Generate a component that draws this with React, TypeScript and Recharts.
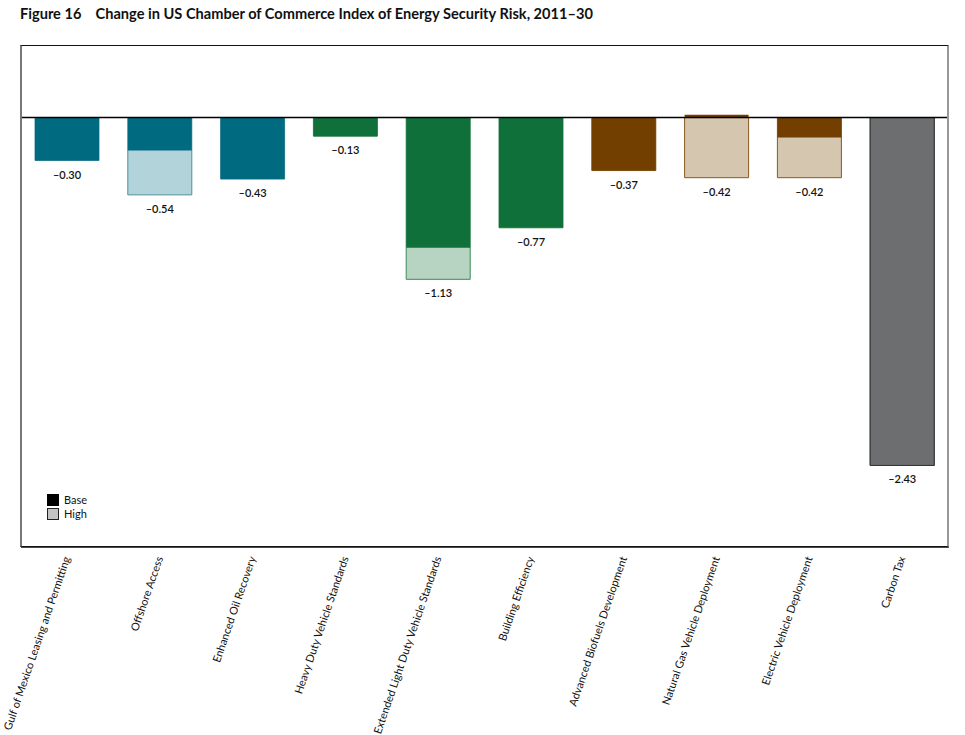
import React from "react";
import { BarChart, Bar, XAxis, YAxis, Cell, LabelList, ReferenceLine } from "recharts";

const categories = [
  "Gulf of Mexico Leasing and Permitting",
  "Offshore Access",
  "Enhanced Oil Recovery",
  "Heavy Duty Vehicle Standards",
  "Extended Light Duty Vehicle Standards",
  "Building Efficiency",
  "Advanced Biofuels Development",
  "Natural Gas Vehicle Deployment",
  "Electric Vehicle Deployment",
  "Carbon Tax",
];
const baseValues = [-0.30, -0.23, -0.43, -0.13, -0.91, -0.77, -0.37, 0.02, -0.14, -2.43];
const highValues = [-0.30, -0.54, -0.43, -0.13, -1.13, -0.77, -0.37, -0.42, -0.42, -2.43];
const groups = ["oil", "oil", "oil", "eff", "eff", "eff", "bio", "bio", "bio", "tax"];
const legendItems = ["Base", "High"];

const baseColors: Record<string, string> = { oil: "#006a81", eff: "#10703a", bio: "#733f00", tax: "#6d6e70" };
const highColors: Record<string, string> = { oil: "#b3d3da", eff: "#b7d4c3", bio: "#d5c6b0", tax: "#6d6e70" };
const highStrokes: Record<string, string> = { oil: "#4f8f9e", eff: "#3b8a57", bio: "#8a5a1e", tax: "#333333" };

const data = categories.map((name, i) => ({ name, base: baseValues[i], high: highValues[i], group: groups[i] }));

const FONT = "Lato, 'Open Sans', sans-serif";

const AngledTick = (props: any) => {
  const { x, y, payload } = props;
  return (
    <g transform={`translate(${x + 3},${y + 9})`}>
      <text x={0} y={0} textAnchor="end" transform="rotate(-71)" fontSize={11} fontFamily={FONT} fill="#111">
        {payload.value}
      </text>
    </g>
  );
};

const ValueLabel = (props: any) => {
  const { x, y, width, height, value } = props;
  const end = Math.max(y, y + height);
  const txt = (value < 0 ? "\u2013" : "") + Math.abs(value).toFixed(2);
  return (
    <text x={x + width / 2} y={end + 18} textAnchor="middle" fontSize={11} fontWeight={600} fontFamily={FONT} fill="#111">
      {txt}
    </text>
  );
};

const legendStyles: Record<string, { fill: string; stroke: string }> = {
  Base: { fill: "#000000", stroke: "#000000" },
  High: { fill: "#c4c4c4", stroke: "#222222" },
};

export default function App() {
  return (
    <div style={{ position: "absolute", left: 0, top: 0, width: 965, height: 735, background: "#fff" }}>
      <div style={{ position: "absolute", left: 20, top: 5, fontFamily: FONT, fontWeight: 700, fontSize: 14.6, color: "#111", whiteSpace: "pre" }}>
        {"Figure 16    Change in US Chamber of Commerce Index of Energy Security Risk, 2011\u201330"}
      </div>
      <BarChart
        width={965}
        height={735}
        data={data}
        margin={{ top: 46, right: 16, left: 21, bottom: 0 }}
        barSize={64}
        barGap={-64}
      >
        <XAxis
          dataKey="name"
          height={188}
          interval={0}
          tickLine={false}
          tickSize={0}
          tick={<AngledTick />}
          axisLine={{ stroke: "#111", strokeWidth: 1.5 }}
        />
        <YAxis domain={[-3, 0.5]} hide />
        <Bar dataKey="high" name="High" isAnimationActive={false}>
          {data.map((d, i) => (
            <Cell key={i} fill={highColors[d.group]} stroke={highStrokes[d.group]} strokeWidth={1} />
          ))}
          <LabelList dataKey="high" content={<ValueLabel />} />
        </Bar>
        <Bar dataKey="base" name="Base" isAnimationActive={false}>
          {data.map((d, i) => (
            <Cell key={i} fill={baseColors[d.group]} stroke={d.group === "tax" ? "#333" : "none"} strokeWidth={1} />
          ))}
        </Bar>
        <ReferenceLine y={0} stroke="#000" strokeWidth={1.5} />
      </BarChart>
      <div
        style={{
          position: "absolute",
          left: 20,
          top: 45,
          width: 929,
          height: 502,
          boxSizing: "border-box",
          borderTop: "1.5px solid #111",
          borderLeft: "2px solid #777",
          borderRight: "2px solid #999",
          borderBottom: "1.5px solid #111",
          pointerEvents: "none",
        }}
      />
      <div style={{ position: "absolute", left: 47, top: 493, fontFamily: FONT, fontSize: 11, color: "#111", lineHeight: "14px" }}>
        {legendItems.map((name) => (
          <div key={name} style={{ display: "flex", alignItems: "center", height: 14 }}>
            <span
              style={{
                display: "inline-block",
                width: 12,
                height: 12,
                background: legendStyles[name].fill,
                border: `1px solid ${legendStyles[name].stroke}`,
                boxSizing: "border-box",
                marginRight: 5,
              }}
            />
            <span>{name}</span>
          </div>
        ))}
      </div>
    </div>
  );
}
